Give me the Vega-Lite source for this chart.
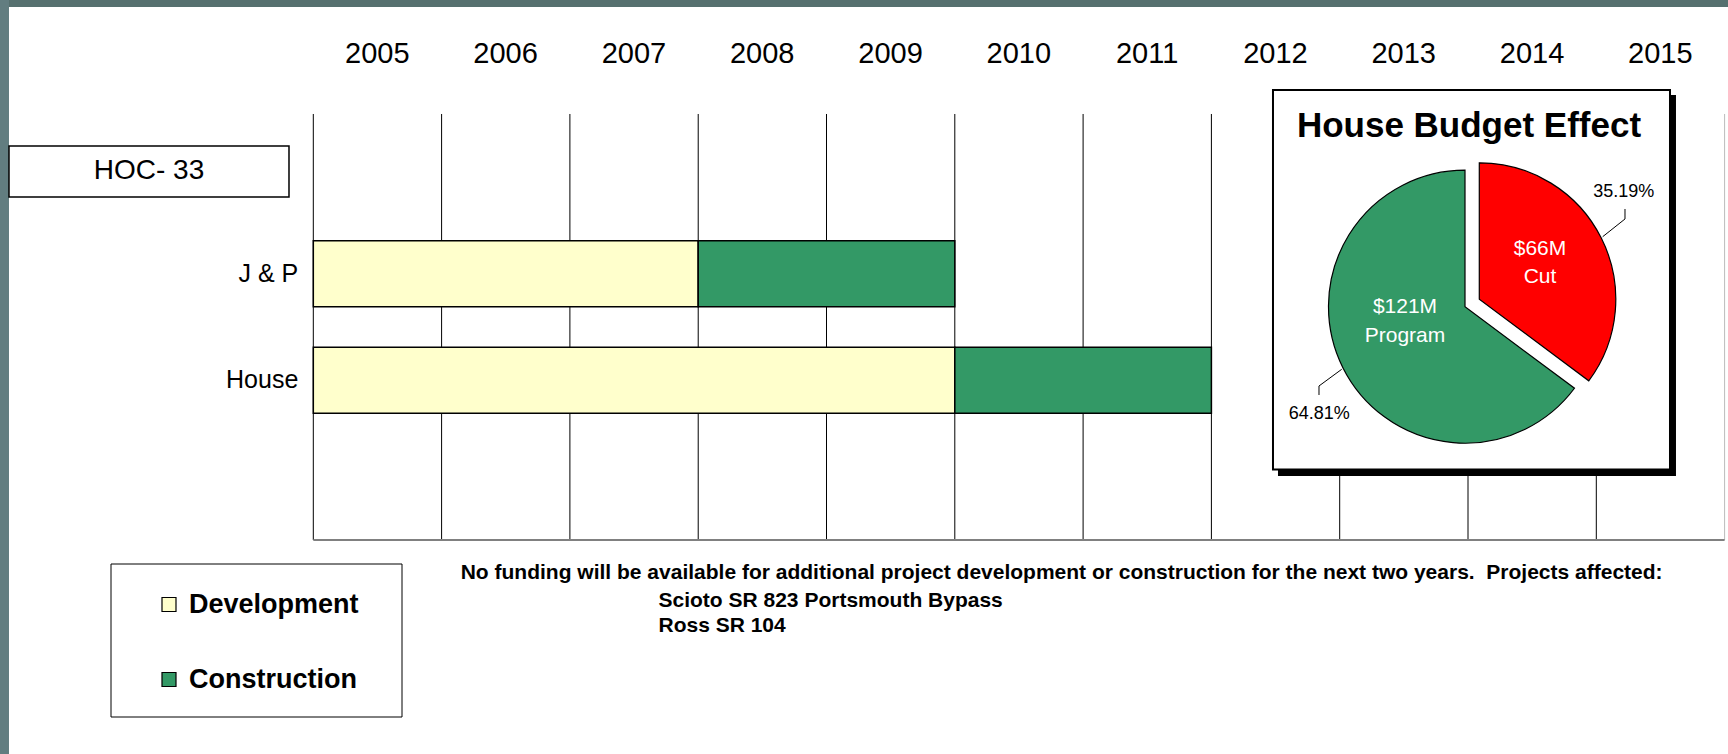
{
  "$schema": "https://vega.github.io/schema/vega-lite/v6.json",
  "width": 1728,
  "height": 754,
  "padding": 0,
  "autosize": {"type": "none"},
  "background": "#ffffff",
  "config": {"view": {"stroke": null}, "text": {"font": "Liberation Sans", "color": "#000000"}},
  "data": {"values": [{}]},
  "datasets": {
    "tasks": [
      {"project": "J & P", "phase": "Development", "start": 2005, "end": 2008},
      {"project": "J & P", "phase": "Construction", "start": 2008, "end": 2010},
      {"project": "House", "phase": "Development", "start": 2005, "end": 2010},
      {"project": "House", "phase": "Construction", "start": 2010, "end": 2012}
    ],
    "years": [
      {"year": 2005}, {"year": 2006}, {"year": 2007}, {"year": 2008}, {"year": 2009}, {"year": 2010},
      {"year": 2011}, {"year": 2012}, {"year": 2013}, {"year": 2014}, {"year": 2015}, {"year": 2016}
    ],
    "pie": [
      {"slice": "Cut", "amount": "$66M", "share": 0.3519},
      {"slice": "Program", "amount": "$121M", "share": 0.6481}
    ],
    "phases": [{"phase": "Development"}, {"phase": "Construction"}]
  },
  "resolve": {"scale": {"y": "independent"}},
  "layer": [
    {
      "layer": [
        {
          "mark": {"type": "rect", "color": "#56706F"},
          "encoding": {
            "x": {"datum": 2002.558, "type": "quantitative", "scale": {"domain": [2002.558, 2016.0265], "nice": false, "zero": false}, "axis": null},
            "x2": {"datum": 2016.0265},
            "y": {"datum": -1.0704, "type": "quantitative", "scale": {"domain": [-1.0704, 6.0094], "nice": false, "zero": false, "reverse": true}, "axis": null},
            "y2": {"datum": -1.0047}
          }
        },
        {
          "mark": {"type": "rect", "color": "#627D80"},
          "encoding": {
            "x": {"datum": 2002.558, "type": "quantitative", "scale": {"domain": [2002.558, 2016.0265], "nice": false, "zero": false}, "axis": null},
            "x2": {"datum": 2002.6281},
            "y": {"datum": -1.0704, "type": "quantitative", "scale": {"domain": [-1.0704, 6.0094], "nice": false, "zero": false, "reverse": true}, "axis": null},
            "y2": {"datum": 6.0094}
          }
        },
        {
          "data": {"name": "years"},
          "mark": {"type": "rule", "strokeWidth": 1},
          "encoding": {
            "x": {"field": "year", "type": "quantitative", "scale": {"domain": [2002.558, 2016.0265], "nice": false, "zero": false}, "axis": null},
            "y": {"datum": 0, "type": "quantitative", "scale": {"domain": [-1.0704, 6.0094], "nice": false, "zero": false, "reverse": true}, "axis": null},
            "y2": {"datum": 4},
            "stroke": {"condition": {"test": "datum.year === 2016", "value": "#BBBBBB"}, "value": "#000000"}
          }
        },
        {
          "mark": {"type": "rule", "stroke": "#808080", "strokeWidth": 2},
          "encoding": {
            "x": {"datum": 2005, "type": "quantitative", "scale": {"domain": [2002.558, 2016.0265], "nice": false, "zero": false}, "axis": null},
            "x2": {"datum": 2016},
            "y": {"datum": 4, "type": "quantitative", "scale": {"domain": [-1.0704, 6.0094], "nice": false, "zero": false, "reverse": true}, "axis": null}
          }
        },
        {
          "data": {"name": "years"},
          "transform": [{"filter": "datum.year <= 2015"}],
          "mark": {"type": "text", "fontSize": 29, "dx": 64, "align": "center", "baseline": "middle"},
          "encoding": {
            "x": {"field": "year", "type": "quantitative", "scale": {"domain": [2002.558, 2016.0265], "nice": false, "zero": false}, "axis": null},
            "y": {"datum": -0.5634, "type": "quantitative", "scale": {"domain": [-1.0704, 6.0094], "nice": false, "zero": false, "reverse": true}, "axis": null},
            "text": {"field": "year", "type": "nominal"}
          }
        },
        {
          "mark": {"type": "rect", "fill": "#ffffff", "stroke": "#000000", "strokeWidth": 1.5},
          "encoding": {
            "x": {"datum": 2002.6281, "type": "quantitative", "scale": {"domain": [2002.558, 2016.0265], "nice": false, "zero": false}, "axis": null},
            "x2": {"datum": 2004.8105},
            "y": {"datum": 0.3005, "type": "quantitative", "scale": {"domain": [-1.0704, 6.0094], "nice": false, "zero": false, "reverse": true}, "axis": null},
            "y2": {"datum": 0.7794}
          }
        },
        {
          "mark": {"type": "text", "text": "HOC- 33", "fontSize": 28, "align": "center", "baseline": "middle"},
          "encoding": {
            "x": {"datum": 2003.7193, "type": "quantitative", "scale": {"domain": [2002.558, 2016.0265], "nice": false, "zero": false}, "axis": null},
            "y": {"datum": 0.5399, "type": "quantitative", "scale": {"domain": [-1.0704, 6.0094], "nice": false, "zero": false, "reverse": true}, "axis": null}
          }
        }
      ]
    },
    {
      "data": {"name": "tasks"},
      "layer": [
        {
          "mark": {"type": "bar", "stroke": "#000000", "strokeWidth": 1.5, "opacity": 1},
          "encoding": {
            "x": {"field": "start", "type": "quantitative", "scale": {"domain": [2002.558, 2016.0265], "nice": false, "zero": false}, "axis": null},
            "x2": {"field": "end"},
            "y": {"field": "project", "type": "nominal", "scale": {"type": "band", "domain": ["HOC- 33", "J & P", "House", "(spare)"], "range": [114, 540], "paddingInner": 0.38, "paddingOuter": 0.19}, "axis": null},
            "color": {"field": "phase", "type": "nominal", "scale": {"domain": ["Development", "Construction"], "range": ["#FFFFCC", "#339966"]}, "legend": null}
          }
        },
        {
          "transform": [{"filter": "datum.phase === 'Development'"}],
          "mark": {"type": "text", "align": "right", "baseline": "middle", "dx": -15, "fontSize": 25},
          "encoding": {
            "x": {"datum": 2005, "type": "quantitative", "scale": {"domain": [2002.558, 2016.0265], "nice": false, "zero": false}, "axis": null},
            "y": {"field": "project", "type": "nominal", "scale": {"type": "band", "domain": ["HOC- 33", "J & P", "House", "(spare)"], "range": [114, 540], "paddingInner": 0.38, "paddingOuter": 0.19}, "axis": null},
            "text": {"field": "project", "type": "nominal"}
          }
        }
      ]
    },
    {
      "layer": [
        {
          "mark": {"type": "rect", "fill": "#000000"},
          "encoding": {
            "x": {"datum": 2012.519, "type": "quantitative", "scale": {"domain": [2002.558, 2016.0265], "nice": false, "zero": false}, "axis": null},
            "x2": {"datum": 2015.6211},
            "y": {"datum": -0.1784, "type": "quantitative", "scale": {"domain": [-1.0704, 6.0094], "nice": false, "zero": false, "reverse": true}, "axis": null},
            "y2": {"datum": 3.3991}
          }
        },
        {
          "mark": {"type": "rect", "fill": "#ffffff", "stroke": "#000000", "strokeWidth": 2},
          "encoding": {
            "x": {"datum": 2012.48, "type": "quantitative", "scale": {"domain": [2002.558, 2016.0265], "nice": false, "zero": false}, "axis": null},
            "x2": {"datum": 2015.5744},
            "y": {"datum": -0.2253, "type": "quantitative", "scale": {"domain": [-1.0704, 6.0094], "nice": false, "zero": false, "reverse": true}, "axis": null},
            "y2": {"datum": 3.3381}
          }
        },
        {
          "mark": {"type": "text", "text": "House Budget Effect", "fontSize": 35, "fontWeight": "bold", "align": "center", "baseline": "alphabetic"},
          "encoding": {
            "x": {"datum": 2014.0077, "type": "quantitative", "scale": {"domain": [2002.558, 2016.0265], "nice": false, "zero": false}, "axis": null},
            "y": {"datum": 0.216, "type": "quantitative", "scale": {"domain": [-1.0704, 6.0094], "nice": false, "zero": false, "reverse": true}, "axis": null}
          }
        },
        {
          "data": {"name": "pie"},
          "mark": {"type": "arc", "radius": 136.5, "stroke": "#000000", "strokeWidth": 1.2},
          "encoding": {
            "x": {"datum": 2013.9766, "type": "quantitative", "scale": {"domain": [2002.558, 2016.0265], "nice": false, "zero": false}, "axis": null},
            "y": {"datum": 1.8094, "type": "quantitative", "scale": {"domain": [-1.0704, 6.0094], "nice": false, "zero": false, "reverse": true}, "axis": null},
            "theta": {"field": "share", "type": "quantitative", "stack": true},
            "order": {"field": "slice", "sort": "ascending"},
            "fill": {"field": "slice", "type": "nominal", "scale": {"domain": ["Cut", "Program"], "range": ["#FF0000", "#339966"]}, "legend": null},
            "fillOpacity": {"condition": {"test": "datum.slice === 'Program'", "value": 1}, "value": 0},
            "strokeOpacity": {"condition": {"test": "datum.slice === 'Program'", "value": 1}, "value": 0}
          }
        },
        {
          "data": {"name": "pie"},
          "mark": {"type": "arc", "radius": 136.5, "stroke": "#000000", "strokeWidth": 1.2},
          "encoding": {
            "x": {"datum": 2014.088, "type": "quantitative", "scale": {"domain": [2002.558, 2016.0265], "nice": false, "zero": false}, "axis": null},
            "y": {"datum": 1.7399, "type": "quantitative", "scale": {"domain": [-1.0704, 6.0094], "nice": false, "zero": false, "reverse": true}, "axis": null},
            "theta": {"field": "share", "type": "quantitative", "stack": true},
            "order": {"field": "slice", "sort": "ascending"},
            "fill": {"field": "slice", "type": "nominal", "scale": {"domain": ["Cut", "Program"], "range": ["#FF0000", "#339966"]}, "legend": null},
            "fillOpacity": {"condition": {"test": "datum.slice === 'Cut'", "value": 1}, "value": 0},
            "strokeOpacity": {"condition": {"test": "datum.slice === 'Cut'", "value": 1}, "value": 0}
          }
        },
        {
          "data": {"name": "pie"},
          "transform": [{"filter": "datum.slice === 'Cut'"}],
          "mark": {"type": "text", "color": "#ffffff", "fontSize": 21, "align": "center", "baseline": "middle"},
          "encoding": {
            "x": {"datum": 2014.5611, "type": "quantitative", "scale": {"domain": [2002.558, 2016.0265], "nice": false, "zero": false}, "axis": null},
            "y": {"datum": 1.2676, "type": "quantitative", "scale": {"domain": [-1.0704, 6.0094], "nice": false, "zero": false, "reverse": true}, "axis": null},
            "text": {"field": "amount", "type": "nominal"}
          }
        },
        {
          "data": {"name": "pie"},
          "transform": [{"filter": "datum.slice === 'Cut'"}],
          "mark": {"type": "text", "color": "#ffffff", "fontSize": 21, "align": "center", "baseline": "middle"},
          "encoding": {
            "x": {"datum": 2014.5611, "type": "quantitative", "scale": {"domain": [2002.558, 2016.0265], "nice": false, "zero": false}, "axis": null},
            "y": {"datum": 1.5352, "type": "quantitative", "scale": {"domain": [-1.0704, 6.0094], "nice": false, "zero": false, "reverse": true}, "axis": null},
            "text": {"field": "slice", "type": "nominal"}
          }
        },
        {
          "data": {"name": "pie"},
          "transform": [{"filter": "datum.slice === 'Program'"}],
          "mark": {"type": "text", "color": "#ffffff", "fontSize": 21, "align": "center", "baseline": "middle"},
          "encoding": {
            "x": {"datum": 2013.5089, "type": "quantitative", "scale": {"domain": [2002.558, 2016.0265], "nice": false, "zero": false}, "axis": null},
            "y": {"datum": 1.8169, "type": "quantitative", "scale": {"domain": [-1.0704, 6.0094], "nice": false, "zero": false, "reverse": true}, "axis": null},
            "text": {"field": "amount", "type": "nominal"}
          }
        },
        {
          "data": {"name": "pie"},
          "transform": [{"filter": "datum.slice === 'Program'"}],
          "mark": {"type": "text", "color": "#ffffff", "fontSize": 21, "align": "center", "baseline": "middle"},
          "encoding": {
            "x": {"datum": 2013.5089, "type": "quantitative", "scale": {"domain": [2002.558, 2016.0265], "nice": false, "zero": false}, "axis": null},
            "y": {"datum": 2.0827, "type": "quantitative", "scale": {"domain": [-1.0704, 6.0094], "nice": false, "zero": false, "reverse": true}, "axis": null},
            "text": {"field": "slice", "type": "nominal"}
          }
        },
        {
          "data": {"name": "pie"},
          "transform": [{"filter": "datum.slice === 'Cut'"}],
          "mark": {"type": "text", "fontSize": 18, "align": "center", "baseline": "middle"},
          "encoding": {
            "x": {"datum": 2015.2143, "type": "quantitative", "scale": {"domain": [2002.558, 2016.0265], "nice": false, "zero": false}, "axis": null},
            "y": {"datum": 0.7352, "type": "quantitative", "scale": {"domain": [-1.0704, 6.0094], "nice": false, "zero": false, "reverse": true}, "axis": null},
            "text": {"field": "share", "type": "quantitative", "format": ".2%"}
          }
        },
        {
          "data": {"name": "pie"},
          "transform": [{"filter": "datum.slice === 'Program'"}],
          "mark": {"type": "text", "fontSize": 18, "align": "center", "baseline": "middle"},
          "encoding": {
            "x": {"datum": 2012.8402, "type": "quantitative", "scale": {"domain": [2002.558, 2016.0265], "nice": false, "zero": false}, "axis": null},
            "y": {"datum": 2.8216, "type": "quantitative", "scale": {"domain": [-1.0704, 6.0094], "nice": false, "zero": false, "reverse": true}, "axis": null},
            "text": {"field": "share", "type": "quantitative", "format": ".2%"}
          }
        },
        {
          "mark": {"type": "rule", "stroke": "#000000", "strokeWidth": 1},
          "encoding": {
            "x": {"datum": 2015.2236, "type": "quantitative", "scale": {"domain": [2002.558, 2016.0265], "nice": false, "zero": false}, "axis": null},
            "y": {"datum": 0.892, "type": "quantitative", "scale": {"domain": [-1.0704, 6.0094], "nice": false, "zero": false, "reverse": true}, "axis": null},
            "y2": {"datum": 0.9859}
          }
        },
        {
          "mark": {"type": "rule", "stroke": "#000000", "strokeWidth": 1},
          "encoding": {
            "x": {"datum": 2015.2236, "type": "quantitative", "scale": {"domain": [2002.558, 2016.0265], "nice": false, "zero": false}, "axis": null},
            "x2": {"datum": 2015.0498},
            "y": {"datum": 0.9859, "type": "quantitative", "scale": {"domain": [-1.0704, 6.0094], "nice": false, "zero": false, "reverse": true}, "axis": null},
            "y2": {"datum": 1.1521}
          }
        },
        {
          "mark": {"type": "rule", "stroke": "#000000", "strokeWidth": 1},
          "encoding": {
            "x": {"datum": 2012.8386, "type": "quantitative", "scale": {"domain": [2002.558, 2016.0265], "nice": false, "zero": false}, "axis": null},
            "y": {"datum": 2.6385, "type": "quantitative", "scale": {"domain": [-1.0704, 6.0094], "nice": false, "zero": false, "reverse": true}, "axis": null},
            "y2": {"datum": 2.554}
          }
        },
        {
          "mark": {"type": "rule", "stroke": "#000000", "strokeWidth": 1},
          "encoding": {
            "x": {"datum": 2012.8386, "type": "quantitative", "scale": {"domain": [2002.558, 2016.0265], "nice": false, "zero": false}, "axis": null},
            "x2": {"datum": 2013.0155},
            "y": {"datum": 2.554, "type": "quantitative", "scale": {"domain": [-1.0704, 6.0094], "nice": false, "zero": false, "reverse": true}, "axis": null},
            "y2": {"datum": 2.3972}
          }
        },
        {
          "mark": {"type": "rect", "fill": "#ffffff", "stroke": "#000000", "strokeWidth": 1},
          "encoding": {
            "x": {"datum": 2003.4232, "type": "quantitative", "scale": {"domain": [2002.558, 2016.0265], "nice": false, "zero": false}, "axis": null},
            "x2": {"datum": 2005.6913},
            "y": {"datum": 4.2254, "type": "quantitative", "scale": {"domain": [-1.0704, 6.0094], "nice": false, "zero": false, "reverse": true}, "axis": null},
            "y2": {"datum": 5.662}
          }
        },
        {
          "data": {"name": "phases"},
          "transform": [{"filter": "datum.phase === 'Development'"}],
          "encoding": {
            "y": {"datum": 4.6057, "type": "quantitative", "scale": {"domain": [-1.0704, 6.0094], "nice": false, "zero": false, "reverse": true}, "axis": null}
          },
          "layer": [
            {
              "mark": {"type": "point", "shape": "square", "filled": true, "size": 196, "stroke": "#000000", "strokeWidth": 1.2, "opacity": 1},
              "encoding": {
                "x": {"datum": 2003.8752, "type": "quantitative", "scale": {"domain": [2002.558, 2016.0265], "nice": false, "zero": false}, "axis": null},
                "color": {"field": "phase", "type": "nominal", "scale": {"domain": ["Development", "Construction"], "range": ["#FFFFCC", "#339966"]}, "legend": null}
              }
            },
            {
              "mark": {"type": "text", "align": "left", "baseline": "middle", "fontSize": 27, "fontWeight": "bold"},
              "encoding": {
                "x": {"datum": 2004.0311, "type": "quantitative", "scale": {"domain": [2002.558, 2016.0265], "nice": false, "zero": false}, "axis": null},
                "text": {"field": "phase", "type": "nominal"}
              }
            }
          ]
        },
        {
          "data": {"name": "phases"},
          "transform": [{"filter": "datum.phase === 'Construction'"}],
          "encoding": {
            "y": {"datum": 5.3099, "type": "quantitative", "scale": {"domain": [-1.0704, 6.0094], "nice": false, "zero": false, "reverse": true}, "axis": null}
          },
          "layer": [
            {
              "mark": {"type": "point", "shape": "square", "filled": true, "size": 196, "stroke": "#000000", "strokeWidth": 1.2, "opacity": 1},
              "encoding": {
                "x": {"datum": 2003.8752, "type": "quantitative", "scale": {"domain": [2002.558, 2016.0265], "nice": false, "zero": false}, "axis": null},
                "color": {"field": "phase", "type": "nominal", "scale": {"domain": ["Development", "Construction"], "range": ["#FFFFCC", "#339966"]}, "legend": null}
              }
            },
            {
              "mark": {"type": "text", "align": "left", "baseline": "middle", "fontSize": 27, "fontWeight": "bold"},
              "encoding": {
                "x": {"datum": 2004.0311, "type": "quantitative", "scale": {"domain": [2002.558, 2016.0265], "nice": false, "zero": false}, "axis": null},
                "text": {"field": "phase", "type": "nominal"}
              }
            }
          ]
        },
        {
          "mark": {"type": "text", "text": "No funding will be available for additional project development or construction for the next two years.\u00a0 Projects affected:", "fontSize": 21, "fontWeight": "bold", "align": "left", "baseline": "middle"},
          "encoding": {
            "x": {"datum": 2006.1488, "type": "quantitative", "scale": {"domain": [2002.558, 2016.0265], "nice": false, "zero": false}, "axis": null},
            "y": {"datum": 4.3127, "type": "quantitative", "scale": {"domain": [-1.0704, 6.0094], "nice": false, "zero": false, "reverse": true}, "axis": null}
          }
        },
        {
          "mark": {"type": "text", "text": "Scioto SR 823 Portsmouth Bypass", "fontSize": 21, "fontWeight": "bold", "align": "left", "baseline": "middle"},
          "encoding": {
            "x": {"datum": 2007.6905, "type": "quantitative", "scale": {"domain": [2002.558, 2016.0265], "nice": false, "zero": false}, "axis": null},
            "y": {"datum": 4.5681, "type": "quantitative", "scale": {"domain": [-1.0704, 6.0094], "nice": false, "zero": false, "reverse": true}, "axis": null}
          }
        },
        {
          "mark": {"type": "text", "text": "Ross SR 104", "fontSize": 21, "fontWeight": "bold", "align": "left", "baseline": "middle"},
          "encoding": {
            "x": {"datum": 2007.6905, "type": "quantitative", "scale": {"domain": [2002.558, 2016.0265], "nice": false, "zero": false}, "axis": null},
            "y": {"datum": 4.8075, "type": "quantitative", "scale": {"domain": [-1.0704, 6.0094], "nice": false, "zero": false, "reverse": true}, "axis": null}
          }
        }
      ]
    }
  ]
}
